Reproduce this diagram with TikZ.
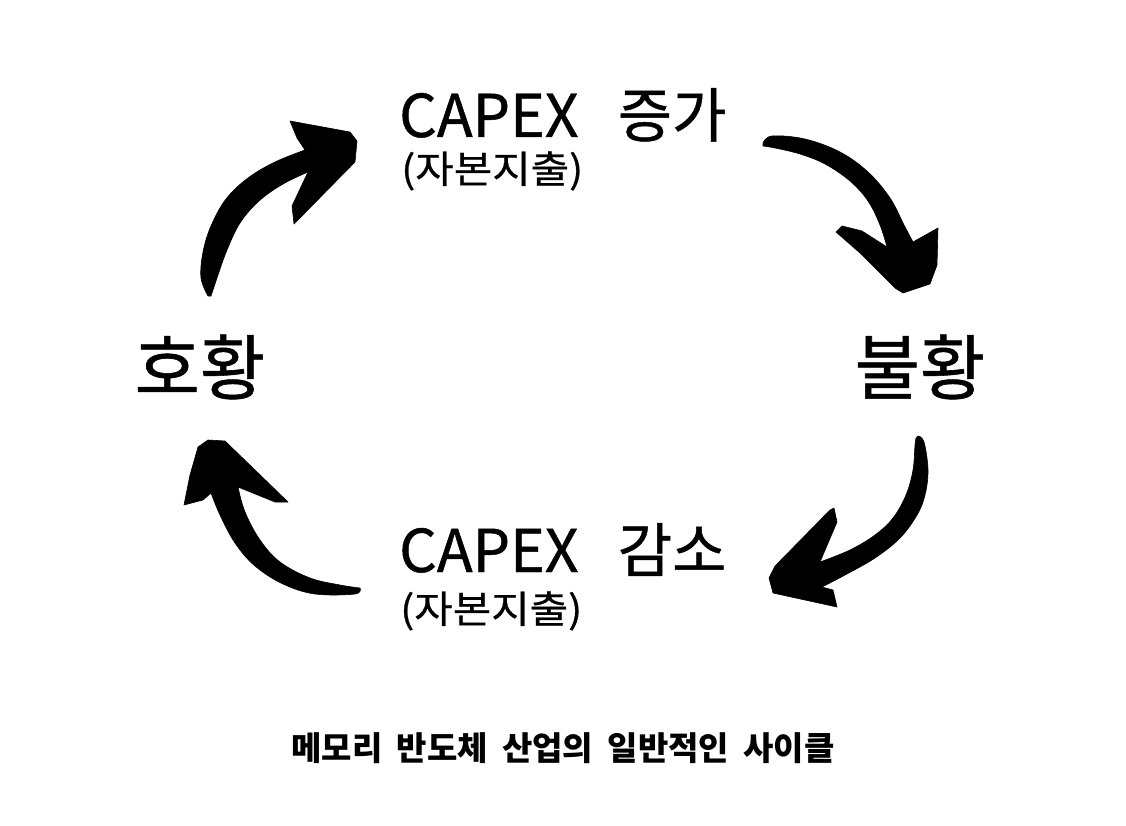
\documentclass[tikz,border=0pt]{standalone}
\usepackage{fontspec}
\setmainfont{Noto Sans CJK KR}
\newfontfamily\headfont{Noto Sans CJK KR}[FakeBold=0.8]
\newfontfamily\subfont{Noto Sans CJK KR}[FakeBold=0.6]
\newfontfamily\statefont{Noto Sans CJK KR}[FakeBold=0.8]
\newfontfamily\capfont{Noto Sans CJK KR}[WordSpace=1.9]
\begin{document}
\begin{tikzpicture}[x=1pt,y=-1pt,
  brush/.style={fill=black, draw=black, line width=0.6pt, line join=round},
  head/.style={inner sep=0pt, font=\headfont\fontsize{59}{62}\selectfont, anchor=base west},
  sub/.style={inner sep=0pt, font=\subfont\fontsize{38}{40}\selectfont, anchor=base west},
  state/.style={inner sep=0pt, font=\statefont\fontsize{71}{74}\selectfont},
  caption/.style={inner sep=0pt, font=\capfont\bfseries\fontsize{33}{36}\selectfont}]
\useasboundingbox (0,0) rectangle (1126,826);
\fill[white] (0,0) rectangle (1126,826);

% texts
\node[head] (inc) at (399,137) {CAPEX \hspace{26pt}증가};
\node[sub] (incsub) at (401,183) {\scalebox{1.1}[1]{(자본지출)}};
\node[head] (dec) at (399,572) {CAPEX \hspace{26pt}감소};
\node[sub] (decsub) at (400,623) {\scalebox{1.1}[1]{(자본지출)}};
\node[state] (boom) at (200,367) {호황};
\node[state] (bust) at (920,367) {불황};
\node[caption] (cap) at (563,748) {메모리 반도체 산업의 일반적인 사이클};

% arrow: boom -> inc (top-left)
\path[brush] plot[smooth, tension=0.6] coordinates {(208,296) (201,278) (203,252) (211,226) (226,199) (248,178) (275,162) (305,150)}
  -- (297,138) -- (290,121) -- (350,132) -- (357,141) -- (355,162) -- (294,224) -- (292,206) -- (308,172)
  -- plot[smooth, tension=0.6] coordinates {(308,172) (283,184) (259,201) (240,223) (227,250) (218,275) (211,296)} -- cycle;

% arrow: inc -> bust (top-right)
\path[brush] plot[smooth, tension=0.6] coordinates {(763,143) (772,136) (805,139) (840,152) (868,172) (890,198) (904,225) (913,242)}
  -- (938,228) -- (937,265) -- (930,284) -- (903,293) -- (895,288) -- (860,253) -- (836,232) -- (842,226) -- (862,231) -- (887,247)
  -- plot[smooth, tension=0.6] coordinates {(887,247) (880,225) (868,201) (850,181) (825,164) (800,154) (775,148) (763,146)} -- cycle;

% arrow: bust -> dec (bottom-right)
\path[brush] plot[smooth, tension=0.6] coordinates {(918,436) (924,442) (928,470) (925,495) (917,515) (900,538) (875,558) (845,575) (822,587)}
  -- (833,590) -- (837,607) -- (773,593) -- (769,578) -- (775,566) -- (830,510) -- (834,508) -- (837,522) -- (820,562)
  -- plot[smooth, tension=0.6] coordinates {(820,562) (850,550) (875,535) (893,518) (906,495) (913,470) (915,445) (916,438)} -- cycle;

% arrow: dec -> boom (bottom-left)
\path[brush] plot[smooth, tension=0.6] coordinates {(360,588) (355,594) (315,594) (283,584) (255,566) (235,543) (220,515) (211,493)}
  -- (203,500) -- (184,505) -- (190,475) -- (198,447) -- (208,440) -- (225,441) -- (255,470) -- (288,502) -- (275,502) -- (238,487)
  -- plot[smooth, tension=0.6] coordinates {(238,487) (245,512) (260,540) (280,562) (310,578) (340,585) (360,588)} -- cycle;
\end{tikzpicture}
\end{document}
